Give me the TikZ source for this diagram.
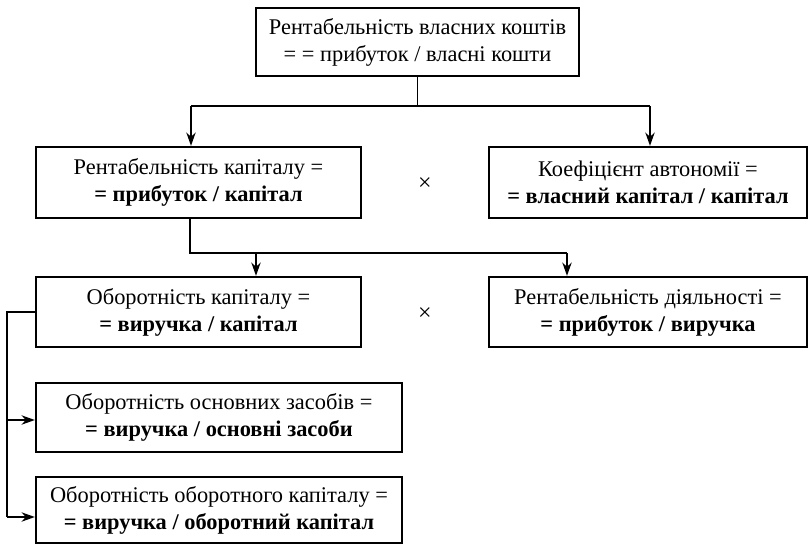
\documentclass[tikz,border=0pt]{standalone}
\usepackage{fontspec}
\setmainfont{Liberation Serif}
\usetikzlibrary{arrows.meta}
\begin{document}
\begin{tikzpicture}[x=0.75pt,y=-0.75pt,
  box/.style={draw,line width=1.7pt,align=center,inner sep=0pt,
    font=\fontsize{16.8}{20.3}\selectfont},
  link/.style={line width=1.3pt},
  arr/.style={link,-{Stealth[length=10pt,width=7pt]}},
  times/.style={font=\fontsize{18}{18}\selectfont}]
\useasboundingbox (0,0) rectangle (808,544);
% boxes
\node[box,minimum width=323*0.75pt,minimum height=68*0.75pt] (top) at (417.5,42)
  {Рентабельність власних коштів\\= = прибуток / власні кошти};
\node[box,minimum width=325*0.75pt,minimum height=71*0.75pt] (rk) at (198.5,182.5)
  {Рентабельність капіталу =\\\textbf{= прибуток / капітал}};
\node[box,minimum width=318*0.75pt,minimum height=71*0.75pt] (ka) at (648,182.5)
  {Коефіцієнт автономії =\\\textbf{= власний капітал / капітал}};
\node[box,minimum width=325*0.75pt,minimum height=70*0.75pt] (ok) at (198.5,312)
  {Оборотність капіталу =\\\textbf{= виручка / капітал}};
\node[box,minimum width=318*0.75pt,minimum height=70*0.75pt] (rd) at (648,312)
  {Рентабельність діяльності =\\\textbf{= прибуток / виручка}};
\node[box,minimum width=366*0.75pt,minimum height=69*0.75pt] (oz) at (219,417.5)
  {Оборотність основних засобів =\\\textbf{= виручка / основні засоби}};
\node[box,minimum width=366*0.75pt,minimum height=66*0.75pt] (oo) at (219,510)
  {Оборотність оборотного капіталу =\\\textbf{= виручка / оборотний капітал}};
% multiplication signs between factors
\node[times] (m1) at (425,184) {×};
\node[times] (m2) at (425,314) {×};
% connectors
\coordinate (j1) at (417.5,106);
\coordinate (j1l) at (191,106);
\coordinate (j1r) at (650,106);
\draw[link] (top.south) -- (j1);
\draw[link] (j1l) -- (j1r);
\draw[arr] (j1l) -- (j1l |- rk.north);
\draw[arr] (j1r) -- (j1r |- ka.north);
\coordinate (j2s) at (190,218);
\coordinate (j2) at (190,253);
\coordinate (j2l) at (256,253);
\coordinate (j2r) at (567,253);
\draw[link] (j2s) -- (j2) -- (j2r);
\draw[arr] (j2l) -- (j2l |- ok.north);
\draw[arr] (j2r) -- (j2r |- rd.north);
\coordinate (b1) at (7,312);
\coordinate (b2) at (7,420);
\coordinate (b3) at (7,517);
\draw[link] (ok.west) -- (b1) -- (b3);
\draw[arr] (b2) -- (b2 -| oz.west);
\draw[arr] (b3) -- (b3 -| oo.west);
\end{tikzpicture}
\end{document}
